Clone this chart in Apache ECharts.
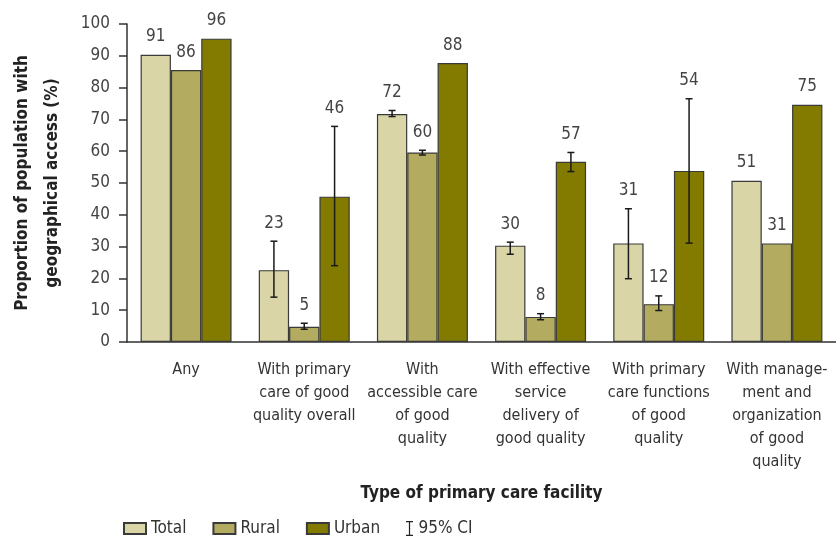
<!DOCTYPE html>
<html>
<head>
<meta charset="utf-8">
<script src="https://cdn.jsdelivr.net/npm/echarts@6/dist/echarts.min.js"></script>
<style>
  html, body { margin: 0; padding: 0; background: #fff; }
  #chart { width: 836px; height: 538px; }
</style>
</head>
<body>
<div id="chart"></div>
<script>
const categories = [
  'Any',
  'With primary\ncare of good\nquality overall',
  'With\naccessible care\nof good\nquality',
  'With effective\nservice\ndelivery of\ngood quality',
  'With primary\ncare functions\nof good\nquality',
  'With manage-\nment and\norganization\nof good\nquality'
]
const seriesNames = ['Total', 'Rural', 'Urban']
const totalValues = [90.3, 22.6, 71.7, 30.3, 31.0, 50.7]
const ruralValues = [85.5, 4.8, 59.6, 7.9, 11.9, 31.0]
const urbanValues = [95.4, 45.7, 87.7, 56.7, 53.8, 74.6]
const totalLabels = [91, 23, 72, 30, 31, 51]
const ruralLabels = [86, 5, 60, 8, 12, 31]
const urbanLabels = [96, 46, 88, 57, 54, 75]
// 95% CI (low, high), null where none drawn
const totalCI = [null, [14.1, 31.7], [70.9, 72.8], [27.6, 31.4], [19.9, 41.9], null]
const ruralCI = [null, [4.0, 5.9], [58.8, 60.3], [7.0, 8.9], [9.9, 14.5], null]
const urbanCI = [null, [24.0, 67.8], null, [53.6, 59.6], [31.1, 76.5], null]
const yTicks = [0, 10, 20, 30, 40, 50, 60, 70, 80, 90, 100]

const colors = ['#d9d5a6', '#b3ac60', '#837b00']
const font = '"DejaVu Sans Condensed", "Liberation Sans Narrow", sans-serif'
const catGap = 0.23

const values = [totalValues, ruralValues, urbanValues]
const labels = [totalLabels, ruralLabels, urbanLabels]
const cis = [totalCI, ruralCI, urbanCI]

const ciData = []
const labelData = []
for (let s = 0; s < 3; s++) {
  for (let c = 0; c < categories.length; c++) {
    const ci = cis[s][c]
    if (ci) ciData.push([c, s, ci[0], ci[1]])
    const top = ci ? Math.max(ci[1], values[s][c]) : values[s][c]
    labelData.push([c, s, top, labels[s][c]])
  }
}

function barCenter(api, c, s) {
  const catW = api.size([1, 0])[0]
  const barW = catW * (1 - catGap) / 3
  return api.coord([c, 0])[0] + (s - 1) * barW
}

const chart = echarts.init(document.getElementById('chart'))
chart.setOption({
  animation: false,
  color: colors,
  textStyle: { fontFamily: font },
  grid: { left: 120, right: 0, top: 24, bottom: 196 },
  legend: [
    {
      data: seriesNames,
      icon: 'rect',
      left: 118, top: 515,
      itemWidth: 22, itemHeight: 11, itemGap: 26,
      textStyle: { fontSize: 17, color: '#333', fontFamily: font }
    },
    {
      data: [{ name: '95% CI', icon: 'path://M0,0H7V1.2H4.1V13.8H7V15H0V13.8H2.9V1.2H0Z' }],
      left: 401, top: 515,
      itemWidth: 8, itemHeight: 15, itemGap: 6,
      itemStyle: { color: '#222' },
      textStyle: { fontSize: 17, color: '#333', fontFamily: font }
    }
  ],
  xAxis: {
    type: 'category',
    data: categories,
    name: 'Type of primary care facility',
    nameLocation: 'middle',
    nameGap: 143,
    nameTextStyle: { fontSize: 17, fontWeight: 'bold', color: '#222', fontFamily: font },
    axisLine: { lineStyle: { color: '#333', width: 1.5 } },
    axisTick: { length: 10, lineStyle: { color: '#333', width: 1.5 } },
    axisLabel: { fontSize: 16, lineHeight: 23, color: '#333', margin: 16, interval: 0 }
  },
  yAxis: {
    type: 'value',
    min: 0, max: 100, interval: 10,
    name: 'Proportion of population with\ngeographical access (%)',
    nameLocation: 'middle',
    nameGap: 59,
    nameTextStyle: { fontSize: 17, fontWeight: 'bold', color: '#222', lineHeight: 30, fontFamily: font },
    axisLine: { show: true, lineStyle: { color: '#333', width: 1.5 } },
    axisTick: { show: true, length: 8, lineStyle: { color: '#333', width: 1.5 } },
    axisLabel: {
      fontSize: 17, color: '#444', margin: 17,
      formatter: v => yTicks.includes(v) ? String(v) : ''
    },
    splitLine: { show: false }
  },
  series: [
    ...seriesNames.map((n, s) => ({
      name: n,
      type: 'bar',
      data: values[s],
      barGap: '0%',
      barCategoryGap: (catGap * 100) + '%',
      itemStyle: { color: colors[s], borderColor: '#3a3a3a', borderWidth: 1.2 }
    })),
    {
      name: '95% CI',
      type: 'custom',
      data: ciData,
      itemStyle: { color: '#222' },
      encode: { x: 0, y: [2, 3] },
      z: 5,
      renderItem: (params, api) => {
        const c = api.value(0), s = api.value(1)
        const x = barCenter(api, c, s)
        const yLo = api.coord([c, api.value(2)])[1]
        const yHi = api.coord([c, api.value(3)])[1]
        const hw = 3.5
        const st = { stroke: '#1a1a1a', lineWidth: 1.5 }
        return {
          type: 'group',
          children: [
            { type: 'line', shape: { x1: x, y1: yLo, x2: x, y2: yHi }, style: st },
            { type: 'line', shape: { x1: x - hw, y1: yHi, x2: x + hw, y2: yHi }, style: st },
            { type: 'line', shape: { x1: x - hw, y1: yLo, x2: x + hw, y2: yLo }, style: st }
          ]
        }
      }
    },
    {
      name: 'labels',
      type: 'custom',
      data: labelData,
      encode: { x: 0, y: 2 },
      z: 6,
      silent: true,
      renderItem: (params, api) => {
        const c = api.value(0), s = api.value(1)
        const x = barCenter(api, c, s)
        const y = api.coord([c, api.value(2)])[1] - 18
        return {
          type: 'text',
          style: {
            text: String(api.value(3)),
            x: x, y: y,
            align: 'center', verticalAlign: 'middle',
            fill: '#444',
            font: '17px ' + font
          }
        }
      }
    }
  ]
})
</script>
</body>
</html>
